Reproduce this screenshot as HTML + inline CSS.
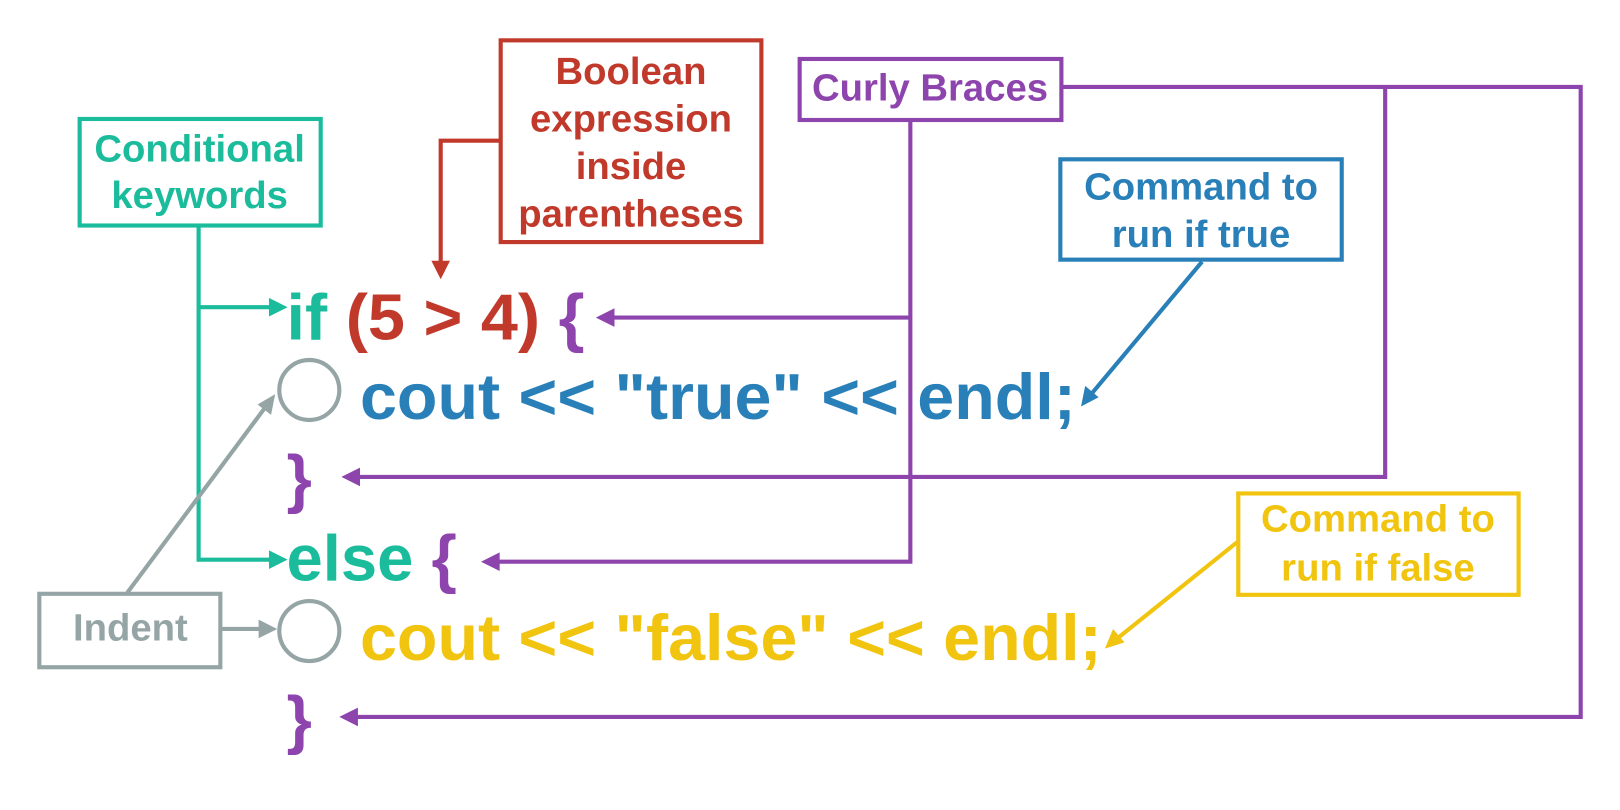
<!DOCTYPE html>
<html><head><meta charset="utf-8"><style>
html,body{margin:0;padding:0;background:#fff;}
svg{display:block;font-family:"Liberation Sans",Arial,sans-serif;font-weight:bold;}
</style></head><body>
<svg width="1620" height="810" viewBox="0 0 1566 783" preserveAspectRatio="none" xmlns="http://www.w3.org/2000/svg">
<g fill="none" stroke-width="4">
<path d="M192 218 V541 H262 M192 297 H262" stroke="#1abc9c"/>
<path d="M278 297 l-18 -9 v18 z M278 541 l-18 -9 v18 z" fill="#1abc9c" stroke="none"/>
<path d="M483 136 H426 V255" stroke="#c0392b"/>
<path d="M426 270 l-9 -18 h18 z" fill="#c0392b" stroke="none"/>
<path d="M880 116 V543 H480 M880 307 H592" stroke="#8e44ad"/>
<path d="M1026 84 H1528 V693 H344 M1339 84 V461 H346" stroke="#8e44ad"/>
<path d="M576 307 l18 -9 v18 z M465 543 l18 -9 v18 z M330 461 l18 -9 v18 z M328 693 l18 -9 v18 z" fill="#8e44ad" stroke="none"/>
<path d="M1162 253 L1054 382" stroke="#2980b9"/>
<path d="M1045 393 l4 -20 l13 11 z" fill="#2980b9" stroke="none"/>
<path d="M1196 524 L1079 618" stroke="#f1c40f"/>
<path d="M1068 627 l8 -19 l11 13 z" fill="#f1c40f" stroke="none"/>
<path d="M213 608 H252 M123 573 L257 393" stroke="#95a5a6"/>
<path d="M268 608 l-18 -9 v18 z M266 381 l-4 20 l-13 -10 z" fill="#95a5a6" stroke="none"/>
<circle cx="299" cy="377" r="29" stroke="#95a5a6"/>
<circle cx="299" cy="610" r="29" stroke="#95a5a6"/>
<rect x="77" y="115" width="233" height="103" stroke="#1abc9c"/>
<rect x="484" y="39" width="252" height="195" stroke="#c0392b"/>
<rect x="773" y="57" width="253" height="59" stroke="#8e44ad"/>
<rect x="1025" y="154" width="272" height="97" stroke="#2980b9"/>
<rect x="1197" y="477" width="271" height="98" stroke="#f1c40f"/>
<rect x="38" y="574" width="175" height="71" stroke="#95a5a6"/>
</g>
<g font-size="37" text-anchor="middle">
<text x="193" y="156" fill="#1abc9c">Conditional</text>
<text x="193" y="201" fill="#1abc9c">keywords</text>
<text x="610" y="81" fill="#c0392b">Boolean</text>
<text x="610" y="127" fill="#c0392b">expression</text>
<text x="610" y="173" fill="#c0392b">inside</text>
<text x="610" y="219" fill="#c0392b">parentheses</text>
<text x="899" y="97" fill="#8e44ad">Curly Braces</text>
<text x="1161" y="193" fill="#2980b9">Command to</text>
<text x="1161" y="239" fill="#2980b9">run if true</text>
<text x="1332" y="514" fill="#f1c40f">Command to</text>
<text x="1332" y="561" fill="#f1c40f">run if false</text>
<text x="126" y="619" fill="#95a5a6">Indent</text>
</g>
<g font-size="63">
<text x="277" y="328" textLength="288" lengthAdjust="spacingAndGlyphs"><tspan fill="#1abc9c">if </tspan><tspan fill="#c0392b">(5 &gt; 4) </tspan><tspan fill="#8e44ad">{</tspan></text>
<text x="348" y="405" fill="#2980b9" textLength="692" lengthAdjust="spacingAndGlyphs">cout &lt;&lt; "true" &lt;&lt; endl;</text>
<text x="277" y="484" fill="#8e44ad">}</text>
<text x="277" y="561"><tspan fill="#1abc9c">else </tspan><tspan fill="#8e44ad">{</tspan></text>
<text x="348" y="638" fill="#f1c40f" textLength="717" lengthAdjust="spacingAndGlyphs">cout &lt;&lt; "false" &lt;&lt; endl;</text>
<text x="277" y="717" fill="#8e44ad">}</text>
</g>
</svg>
</body></html>
